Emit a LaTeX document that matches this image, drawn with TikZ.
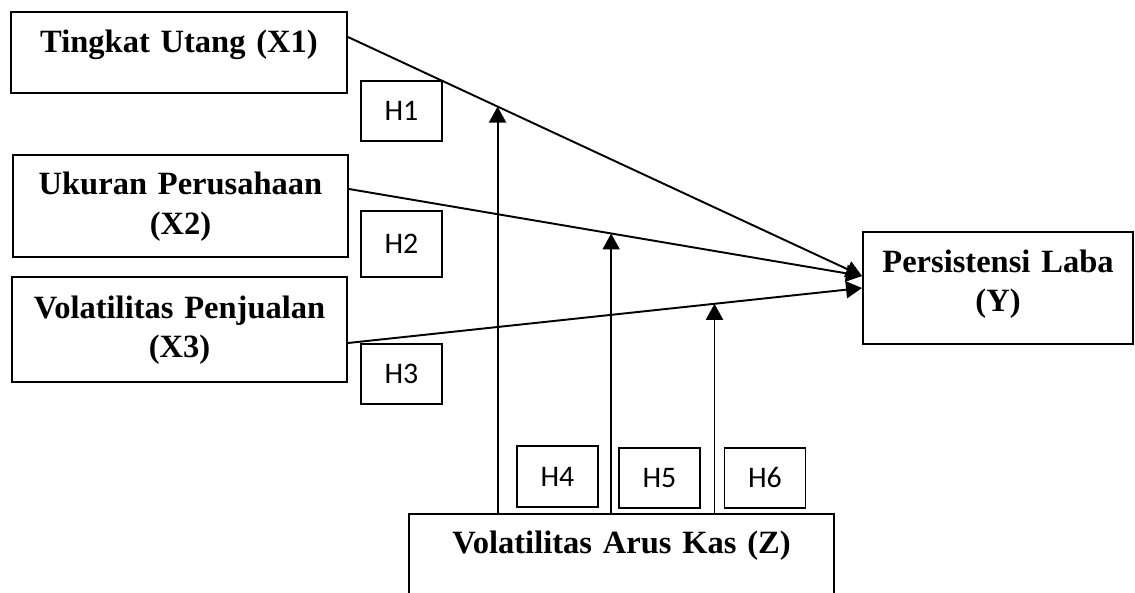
\documentclass[tikz,border=0pt]{standalone}
\usepackage{fontspec}
\setmainfont{Liberation Serif}
\newfontfamily\hfont{Carlito}
\usetikzlibrary{arrows.meta}

\begin{document}
\begin{tikzpicture}[
	varbox/.style={draw, line width=1.1pt, align=center, inner sep=0pt, text width=#1, text height=0.4cm,
		font=\fontsize{18.5}{22.7}\selectfont\bfseries},
	hbox/.style={draw, line width=1pt, minimum width=1.62cm, minimum height=1.2cm, inner sep=0pt,
		font=\hfont\fontsize{17}{20}\selectfont},
	link/.style={line width=1.1pt, -{Triangle[length=3.2mm,width=3.4mm]}}
	]
	%%%%% START %%%%%
	\useasboundingbox (0,0) rectangle (22.7,-11.84);
	
	% variables
	\node[varbox=6.72cm, minimum height=1.62cm, text depth=0.4cm] (x1) at (3.58,-1.05) {Tingkat Utang (X1)};
	\node[varbox=6.70cm, minimum height=2.04cm, text depth=0.84cm] (x2) at (3.61,-4.12) {Ukuran Perusahaan\\(X2)};
	\node[varbox=6.70cm, minimum height=2.10cm, text depth=0.86cm] (x3) at (3.59,-6.59) {Volatilitas Penjualan\\(X3)};
	\node[varbox=5.40cm, minimum height=2.24cm, text depth=1.04cm] (y) at (19.96,-5.76) {Persistensi Laba\\(Y)};
	\node[varbox=8.50cm, minimum height=2.12cm, text depth=0.96cm] (z) at (12.43,-11.34) {Volatilitas Arus Kas (Z)};
	
	% hypotheses
	\node[hbox] (h1) at (8.03,-2.22) {H1};
	\node[hbox, minimum height=1.32cm] (h2) at (8.03,-4.88) {H2};
	\node[hbox] (h3) at (8.03,-7.48) {H3};
	\node[hbox, minimum height=1.22cm] (h4) at (11.15,-9.53) {H4};
	\node[hbox] (h5) at (13.19,-9.56) {H5};
	\node[hbox] (h6) at (15.30,-9.56) {H6};
	
	% direct paths
	\draw[link] ([yshift=3.1mm]x1.east) -- coordinate[pos=0.291] (m1) ([yshift=2.4mm]y.west);
	\draw[link] ([yshift=3.4mm]x2.east) -- coordinate[pos=0.511] (m2) ([yshift=2.4mm]y.west);
	\draw[link] ([yshift=-2.7mm]x3.east) -- coordinate[pos=0.713] (m3) (y.west);
	
	% moderation
	\draw[link] (z.north -| m1) -- (m1);
	\draw[link] (z.north -| m2) -- (m2);
	\draw[link] (z.north -| m3) -- (m3);
	
	%%%%% END %%%%%
\end{tikzpicture}
\end{document}
